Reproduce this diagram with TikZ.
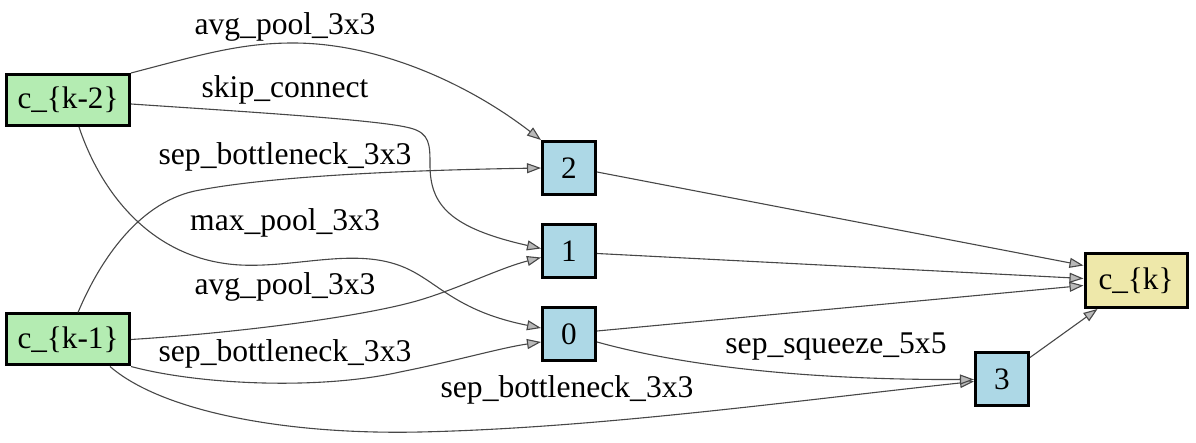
\documentclass[tikz,border=0pt]{standalone}
\usepackage{fontspec}
\setmainfont{Liberation Serif}
\usetikzlibrary{arrows.meta,calc}
\definecolor{ingreen}{RGB}{180,236,178}
\definecolor{opblue}{RGB}{173,216,230}
\definecolor{outkhaki}{RGB}{238,232,170}
\tikzset{
  box/.style={draw=black, line width=1.5pt, inner sep=0pt, font=\fontsize{15.6pt}{18pt}\selectfont},
  inbox/.style={box, fill=ingreen, minimum width=61.5pt, minimum height=25.5pt},
  opbox/.style={box, fill=opblue, minimum width=26.5pt, minimum height=26.5pt},
  outbox/.style={box, fill=outkhaki, minimum width=51pt, minimum height=27pt},
  edge/.style={draw=black!72, line width=0.55pt, -{Triangle[length=7pt,width=5pt,fill=gray!55]}},
  lbl/.style={inner sep=0pt, font=\fontsize{15.8pt}{18pt}\selectfont}
}
\begin{document}
\begin{tikzpicture}[x=0.5pt,y=-0.5pt]
\path[use as bounding box] (0,0) rectangle (1196,443);
% nodes
\node[inbox] (k2) at (68,100) {c\_\{k-2\}};
\node[inbox] (k1) at (68,339.5) {c\_\{k-1\}};
\node[opbox] (n2) at (569,168) {2};
\node[opbox] (n1) at (569,251.5) {1};
\node[opbox] (n0) at (569,334) {0};
\node[opbox] (n3) at (1002,379.5) {3};
\node[outbox] (ck) at (1136,280.5) {c\_\{k\}};
% edges from c_{k-2}
\draw[edge] (k2.north east) .. controls (200,55) and (240,43) .. (293,43)
  .. controls (380,43) and (470,85) .. (n2.north west);
\draw[edge] ($(k2.east)+(0,4)$) .. controls (250,112) and (380,120) .. (410,128)
  .. controls (430,133) and (430,145) .. (430,165)
  .. controls (430,205) and (450,228) .. ($(n1.west)+(0,-3)$);
\draw[edge] ($(k2.south)+(11,0)$) .. controls (100,190) and (150,260) .. (240,265)
  .. controls (300,268) and (360,245) .. (410,270)
  .. controls (440,285) and (460,312) .. ($(n0.west)+(0,-6)$);
% edges from c_{k-1}
\draw[edge] ($(k1.north)+(10,0)$) .. controls (100,260) and (140,200) .. (200,190)
  .. controls (280,175) and (420,170) .. (n2.west);
\draw[edge] (k1.east) .. controls (250,332) and (370,315) .. (420,300)
  .. controls (460,288) and (500,268) .. ($(n1.west)+(0,6)$);
\draw[edge] (k1.south east) .. controls (200,385) and (320,390) .. (400,372)
  .. controls (460,360) and (500,348) .. ($(n0.west)+(0,8)$);
\draw[edge] ($(k1.south)+(42,0)$) .. controls (160,410) and (280,435) .. (420,432)
  .. controls (600,428) and (800,400) .. ($(n3.west)+(0,2)$);
% edges from ops
\draw[edge] ($(n0.east)+(0,8)$) .. controls (680,365) and (800,380) .. (n3.west);
\draw[edge] ($(n2.east)+(0,4)$) -- ($(ck.west)+(0,-15)$);
\draw[edge] ($(n1.east)+(0,2)$) -- ($(ck.west)+(0,-2)$);
\draw[edge] ($(n0.east)+(0,-3)$) -- ($(ck.west)+(0,5)$);
\draw[edge] ($(n3.north east)+(0,6)$) -- ($(ck.south west)+(14,0)$);
% labels
\node[lbl] (l1) at (285,27) {avg\_pool\_3x3};
\node[lbl] (l2) at (285,90) {skip\_connect};
\node[lbl] (l3) at (285,157) {sep\_bottleneck\_3x3};
\node[lbl] (l4) at (285,223) {max\_pool\_3x3};
\node[lbl] (l5) at (285,287) {avg\_pool\_3x3};
\node[lbl] (l6) at (285,354) {sep\_bottleneck\_3x3};
\node[lbl] (l7) at (567,390) {sep\_bottleneck\_3x3};
\node[lbl] (l8) at (836,347) {sep\_squeeze\_5x5};
\end{tikzpicture}
\end{document}
